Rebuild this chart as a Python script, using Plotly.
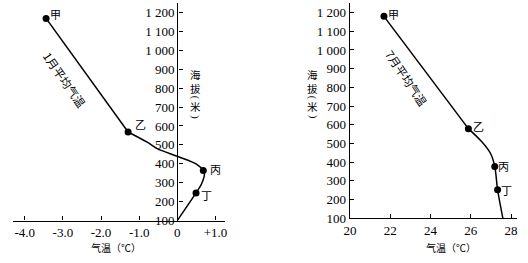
import plotly.graph_objects as go

W, H = 528, 263

# ---- data ----
labels = ["甲", "乙", "丙", "丁"]

jan_pts_temp = [-3.44, -1.29, 0.68, 0.49]
jan_pts_alt = [1168, 568, 364, 246]
jan_curve_temp = [-1.29, -0.79, -0.53, 0.03, 0.5, 0.68, 0.71, 0.63, 0.49, 0.0]
jan_curve_alt = [568, 514, 480, 437, 398, 364, 343, 292, 246, 100]

jul_pts_temp = [21.69, 25.88, 27.19, 27.33]
jul_pts_alt = [1180, 579, 377, 252]
jul_curve_temp = [25.88, 26.57, 26.98, 27.19, 27.33, 27.59]
jul_curve_alt = [579, 506, 446, 377, 252, 100]

alt_ticks = [100, 200, 300, 400, 500, 600, 700, 800, 900, 1000, 1100, 1200]
alt_ticktext = ["100", "200", "300", "400", "500", "600", "700", "800", "900",
                "1 000", "1 100", "1 200"]
jan_xticks = [-4, -3, -2, -1, 0, 1]
jan_xticktext = ["-4.0", "-3.0", "-2.0", "-1.0", "0", "+1.0"]
jul_xticks = [20, 22, 24, 26, 28]
jul_xticktext = ["20", "22", "24", "26", "28"]


def px(x):
    return x / W


def py(y):
    return 1 - y / H


NUM_FONT = dict(family="Liberation Serif", size=13, color="black")
CJK = "Noto Sans CJK SC"

fig = go.Figure()

line_style = dict(color="black", width=1.5)
mk = dict(color="black", size=7)

# January
fig.add_trace(go.Scatter(x=jan_pts_temp[:2], y=jan_pts_alt[:2], mode="lines",
                         line=line_style, xaxis="x", yaxis="y", hoverinfo="skip"))
fig.add_trace(go.Scatter(x=jan_curve_temp, y=jan_curve_alt, mode="lines",
                         line=dict(line_style, shape="spline", smoothing=0.8),
                         xaxis="x", yaxis="y", hoverinfo="skip"))
fig.add_trace(go.Scatter(x=jan_pts_temp, y=jan_pts_alt, mode="markers", marker=mk,
                         xaxis="x", yaxis="y"))
# July
fig.add_trace(go.Scatter(x=jul_pts_temp[:2], y=jul_pts_alt[:2], mode="lines",
                         line=line_style, xaxis="x2", yaxis="y2", hoverinfo="skip"))
fig.add_trace(go.Scatter(x=jul_curve_temp, y=jul_curve_alt, mode="lines",
                         line=dict(line_style, shape="spline", smoothing=0.8),
                         xaxis="x2", yaxis="y2", hoverinfo="skip"))
fig.add_trace(go.Scatter(x=jul_pts_temp, y=jul_pts_alt, mode="markers", marker=mk,
                         xaxis="x2", yaxis="y2"))

axis_common = dict(showgrid=False, zeroline=False, showline=True, linecolor="black",
                   linewidth=1.3, ticks="inside", ticklen=4, tickcolor="black",
                   tickfont=NUM_FONT, fixedrange=True)

fig.update_layout(
    width=W, height=H, margin=dict(l=0, r=0, t=0, b=0),
    paper_bgcolor="white", plot_bgcolor="white", showlegend=False,
    xaxis=dict(axis_common, domain=[px(7), px(222)], range=[-4.31, 1.24],
               tickvals=jan_xticks, ticktext=jan_xticktext, anchor="y"),
    yaxis=dict(axis_common, domain=[py(227.5), py(3)], range=[100, 1250],
               tickvals=alt_ticks, ticktext=alt_ticktext, anchor="free",
               position=px(174), side="left"),
    xaxis2=dict(axis_common, domain=[px(349), px(519)], range=[19.99, 28.3],
                tickvals=jul_xticks, ticktext=jul_xticktext, anchor="y2"),
    yaxis2=dict(axis_common, domain=[py(225), py(3)], range=[100, 1252],
                tickvals=alt_ticks, ticktext=alt_ticktext, anchor="x2", side="left"),
)

ann = []
# point labels
jan_shift = [(9, 4), (12, 8), (12, 2), (10, -2)]
jul_shift = [(10, 2), (10, 3), (9, 0), (9, 0)]
for i, lab in enumerate(labels):
    ann.append(dict(x=jan_pts_temp[i], y=jan_pts_alt[i], xref="x", yref="y", text=lab,
                    showarrow=False, xshift=jan_shift[i][0], yshift=jan_shift[i][1],
                    xanchor="center", yanchor="middle",
                    font=dict(family=CJK, size=11, color="black")))
    ann.append(dict(x=jul_pts_temp[i], y=jul_pts_alt[i], xref="x2", yref="y2", text=lab,
                    showarrow=False, xshift=jul_shift[i][0], yshift=jul_shift[i][1],
                    xanchor="center", yanchor="middle",
                    font=dict(family=CJK, size=11, color="black")))

# rotated curve labels
ann.append(dict(x=px(60), y=py(82), xref="paper", yref="paper", text="1月平均气温",
                textangle=55, showarrow=False, xanchor="center", yanchor="middle",
                font=dict(family=CJK, size=11.5, color="black")))
ann.append(dict(x=px(407), y=py(80), xref="paper", yref="paper", text="7月平均气温",
                textangle=56, showarrow=False, xanchor="center", yanchor="middle",
                font=dict(family=CJK, size=11.5, color="black")))

# vertical y-axis titles: 海拔(米)
vitems = [("海<br>拔", 84.5, 0, CJK, 10.5),
          ("(", 101, 90, "Liberation Serif", 10),
          ("米", 110, 0, CJK, 10.5), (")", 120, 90, "Liberation Serif", 10)]
for cx in (192, 311):
    for ch, yy, ang, fam, fs in vitems:
        ann.append(dict(x=px(cx), y=py(yy), xref="paper", yref="paper", text=ch,
                        textangle=ang, showarrow=False, xanchor="center", yanchor="middle",
                        borderpad=0,
                        font=dict(family=fam, size=fs, color="black")))

# x-axis titles
for cx in (112, 452):
    ann.append(dict(x=px(cx), y=py(255), xref="paper", yref="paper", text="气温（℃）",
                    showarrow=False, xanchor="center", yanchor="middle", borderpad=0,
                    font=dict(family=CJK, size=10, color="black")))

fig.update_layout(annotations=ann)
fig.write_html("out.html")
